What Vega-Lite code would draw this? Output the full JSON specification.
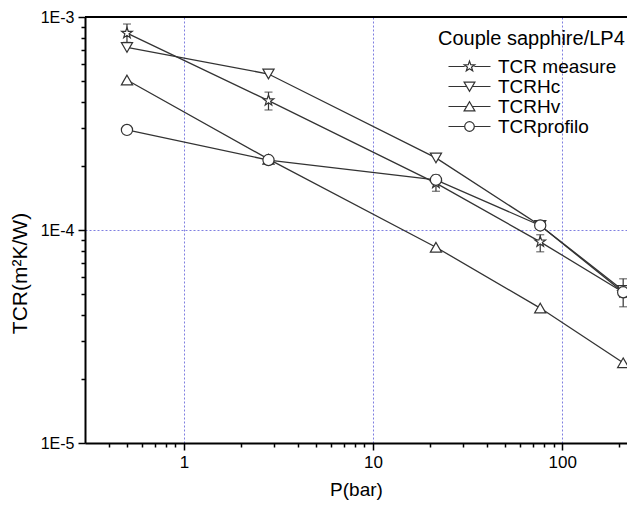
{
  "$schema": "https://vega.github.io/schema/vega-lite/v6.json",
  "autosize": "none",
  "width": 542,
  "height": 426,
  "padding": {"left": 85, "top": 17, "right": 0, "bottom": 70},
  "background": "white",
  "config": {
    "view": {"stroke": null},
    "font": "'Liberation Sans', Arial, sans-serif",
    "axis": {
      "domainColor": "black",
      "domainWidth": 2,
      "tickColor": "black",
      "tickWidth": 1.5,
      "labelColor": "black",
      "titleColor": "black",
      "labelFont": "'Liberation Sans', Arial, sans-serif",
      "titleFont": "'Liberation Sans', Arial, sans-serif",
      "titleFontWeight": "normal",
      "labelOverlap": false,
      "labelFlush": false,
      "gridColor": "#7f7fe0",
      "gridDash": [2, 2],
      "gridWidth": 1
    },
    "legend": {
      "labelFont": "'Liberation Sans', Arial, sans-serif",
      "titleFont": "'Liberation Sans', Arial, sans-serif"
    }
  },
  "data": {
    "values": [
      {"series": "TCR measure", "P": 0.5, "TCR": 0.00084, "lo": 0.00076, "hi": 0.000927},
      {"series": "TCR measure", "P": 2.8, "TCR": 0.000405, "lo": 0.000366, "hi": 0.000444},
      {"series": "TCR measure", "P": 21.5, "TCR": 0.000166, "lo": 0.000152, "hi": 0.000181},
      {"series": "TCR measure", "P": 76.5, "TCR": 0.000088, "lo": 0.000079, "hi": 0.000095},
      {"series": "TCR measure", "P": 210, "TCR": 0.000051, "lo": 0.0000436, "hi": 0.000059},
      {"series": "TCRHc", "P": 0.5, "TCR": 0.00072},
      {"series": "TCRHc", "P": 2.8, "TCR": 0.00054},
      {"series": "TCRHc", "P": 21.5, "TCR": 0.000218},
      {"series": "TCRHc", "P": 76.5, "TCR": 0.000105},
      {"series": "TCRHc", "P": 210, "TCR": 0.000052},
      {"series": "TCRHv", "P": 0.5, "TCR": 0.000506},
      {"series": "TCRHv", "P": 2.8, "TCR": 0.000215},
      {"series": "TCRHv", "P": 21.5, "TCR": 0.000083},
      {"series": "TCRHv", "P": 76.5, "TCR": 0.000043},
      {"series": "TCRHv", "P": 210, "TCR": 0.0000238},
      {"series": "TCRprofilo", "P": 0.5, "TCR": 0.000295},
      {"series": "TCRprofilo", "P": 2.8, "TCR": 0.000213},
      {"series": "TCRprofilo", "P": 21.5, "TCR": 0.000172},
      {"series": "TCRprofilo", "P": 76.5, "TCR": 0.000105},
      {"series": "TCRprofilo", "P": 210, "TCR": 0.000051}
    ]
  },
  "encoding": {
    "x": {
      "field": "P",
      "type": "quantitative",
      "scale": {"type": "log", "domain": [0.3, 220], "nice": false},
      "axis": {
        "title": "P(bar)",
        "titleFontSize": 19,
        "titlePadding": 10,
        "labelFontSize": 17,
        "labelPadding": 4,
        "values": [0.4, 0.5, 0.6, 0.7, 0.8, 0.9, 1, 2, 3, 4, 5, 6, 7, 8, 9, 10, 20, 30, 40, 50, 60, 70, 80, 90, 100, 200],
        "labelExpr": "abs(log(datum.value)/LN10 - round(log(datum.value)/LN10)) < 0.001 ? '' + round(datum.value) : ''",
        "tickSize": {"condition": {"test": "abs(log(datum.value)/LN10 - round(log(datum.value)/LN10)) < 0.001", "value": 7}, "value": 4},
        "grid": true,
        "gridOpacity": {"condition": {"test": "abs(log(datum.value)/LN10 - round(log(datum.value)/LN10)) < 0.001", "value": 1}, "value": 0}
      }
    },
    "y": {
      "field": "TCR",
      "type": "quantitative",
      "scale": {"type": "log", "domain": [0.00001, 0.001], "nice": false},
      "axis": {
        "title": "TCR(m²K/W)",
        "titleFontSize": 21,
        "titleAngle": -90,
        "titleBaseline": "middle",
        "titleAlign": "center",
        "titleX": -65,
        "titleY": 256,
        "labelFontSize": 16,
        "labelPadding": 4,
        "values": [0.00001, 0.00002, 0.00003, 0.00004, 0.00005, 0.00006, 0.00007, 0.00008, 0.00009, 0.0001, 0.0002, 0.0003, 0.0004, 0.0005, 0.0006, 0.0007, 0.0008, 0.0009, 0.001],
        "labelExpr": "abs(log(datum.value)/LN10 - round(log(datum.value)/LN10)) < 0.001 ? '1E' + round(log(datum.value)/LN10) : ''",
        "tickSize": {"condition": {"test": "abs(log(datum.value)/LN10 - round(log(datum.value)/LN10)) < 0.001", "value": 7}, "value": 4},
        "grid": true,
        "gridOpacity": {"condition": {"test": "abs(log(datum.value)/LN10 - round(log(datum.value)/LN10)) < 0.001", "value": 1}, "value": 0}
      }
    }
  },
  "layer": [
    {
      "mark": {"type": "rule", "color": "black", "strokeWidth": 2},
      "encoding": {
        "x": {"value": 0},
        "x2": {"value": 542},
        "y": {"datum": 0.001, "type": "quantitative"}
      }
    },
    {
      "mark": {"type": "line", "color": "#333333", "strokeWidth": 1.3},
      "encoding": {"detail": {"field": "series"}}
    },
    {
      "transform": [{"filter": "isValid(datum.lo)"}],
      "mark": {"type": "rule", "color": "#333333", "strokeWidth": 1.2},
      "encoding": {"y": {"field": "lo", "type": "quantitative"}, "y2": {"field": "hi"}}
    },
    {
      "transform": [{"filter": "isValid(datum.lo)"}],
      "mark": {"type": "tick", "orient": "horizontal", "color": "#333333", "size": 8, "thickness": 1.2},
      "encoding": {"y": {"field": "lo", "type": "quantitative"}}
    },
    {
      "transform": [{"filter": "isValid(datum.lo)"}],
      "mark": {"type": "tick", "orient": "horizontal", "color": "#333333", "size": 8, "thickness": 1.2},
      "encoding": {"y": {"field": "hi", "type": "quantitative"}}
    },
    {
      "mark": {"type": "point", "filled": true, "fill": "white", "stroke": "#333333", "strokeWidth": 1.2, "opacity": 1, "size": 125},
      "encoding": {
        "shape": {
          "field": "series",
          "type": "nominal",
          "scale": {
            "domain": ["TCR measure", "TCRHc", "TCRHv", "TCRprofilo"],
            "range": [
              "M0,-1L0.235,-0.324L0.951,-0.309L0.38,0.124L0.588,0.809L0,0.4L-0.588,0.809L-0.38,0.124L-0.951,-0.309L-0.235,-0.324Z",
              "triangle-down",
              "triangle-up",
              "circle"
            ]
          },
          "legend": null
        }
      }
    },
    {
      "transform": [{"filter": "false"}],
      "mark": {"type": "point", "filled": false, "color": "#333333", "strokeWidth": 1.2, "size": 144},
      "encoding": {
        "shape": {
          "field": "series",
          "type": "nominal",
          "scale": {
            "domain": ["TCR measure", "TCRHc", "TCRHv", "TCRprofilo"],
            "range": [
              "M-3.5,0L-0.8,0M0.8,0L3.5,0M0,-0.9L0.21,-0.29L0.86,-0.28L0.34,0.11L0.53,0.73L0,0.36L-0.53,0.73L-0.34,0.11L-0.86,-0.28L-0.21,-0.29Z",
              "M-3.5,0L-0.5,0M0.5,0L3.5,0M-0.9,-0.72L0.9,-0.72L0,0.8Z",
              "M-3.5,0L-0.5,0M0.5,0L3.5,0M0,-0.8L0.9,0.72L-0.9,0.72Z",
              "M-3.5,0L-0.8,0M0.8,0L3.5,0M-0.8,0A0.8,0.8 0 1,1 0.8,0A0.8,0.8 0 1,1 -0.8,0Z"
            ]
          },
          "legend": {
            "title": "Couple sapphire/LP4",
            "orient": "none",
            "legendX": 353,
            "legendY": 12,
            "padding": 0,
            "titleFontSize": 20,
            "titleFontWeight": "normal",
            "titleColor": "black",
            "titleLimit": 400,
            "titlePadding": 8,
            "labelFontSize": 19,
            "labelLimit": 400,
            "labelColor": "black",
            "labelOffset": 19,
            "symbolOffset": 22,
            "symbolSize": 144,
            "symbolOpacity": 1,
            "symbolStrokeColor": "#333333",
            "symbolStrokeWidth": 1.2,
            "rowPadding": 0
          }
        }
      }
    }
  ],
  "resolve": {"scale": {"shape": "independent"}}
}
